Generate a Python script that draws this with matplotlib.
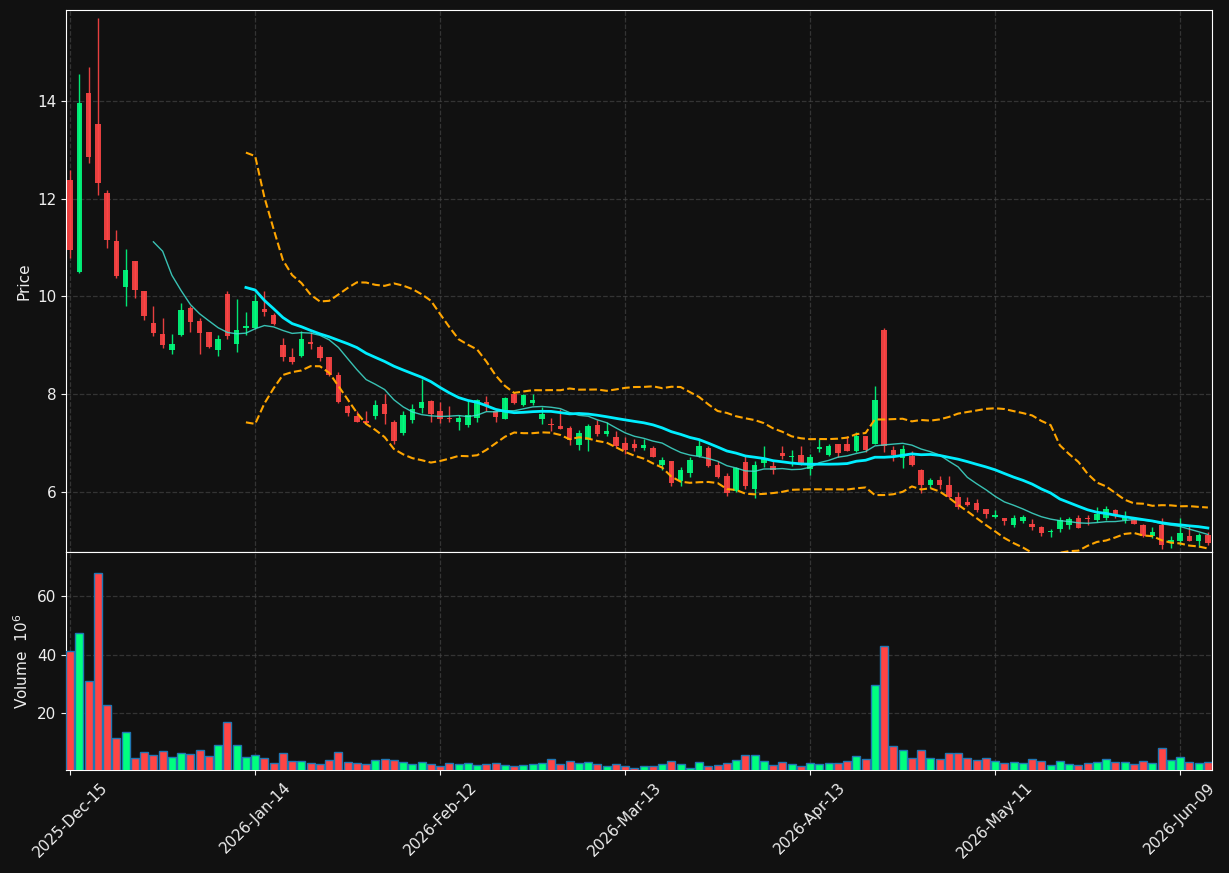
import numpy as np
import pandas as pd
import matplotlib
matplotlib.use("Agg")
import matplotlib.pyplot as plt

# OHLC + volume (volume in millions)
opens = [12.39, 10.50, 14.17, 13.52, 12.11, 11.13, 10.20, 10.72, 10.11, 9.46,
         9.24, 8.90, 9.21, 9.76, 9.50, 9.27, 8.91, 10.05, 9.03, 9.36,
         9.36, 9.74, 9.61, 9.00, 8.76, 8.78, 9.06, 8.96, 8.75, 8.39,
         7.76, 7.56, 7.46, 7.55, 7.80, 7.42, 7.20, 7.48, 7.71, 7.86,
         7.66, 7.52, 7.44, 7.37, 7.52, 7.84, 7.65, 7.50, 8.01, 7.78,
         7.81, 7.50, 7.39, 7.35, 7.31, 6.95, 7.07, 7.37, 7.19, 7.13,
         7.01, 6.99, 6.90, 6.90, 6.56, 6.64, 6.23, 6.39, 6.74, 6.90,
         6.54, 6.33, 6.01, 6.62, 6.05, 6.60, 6.53, 6.80, 6.71, 6.76,
         6.46, 6.88, 6.75, 6.97, 6.97, 6.83, 7.14, 6.99, 9.31, 6.86,
         6.69, 6.73, 6.44, 6.15, 6.25, 6.15, 5.90, 5.79, 5.77, 5.66,
         5.48, 5.46, 5.33, 5.41, 5.35, 5.29, 5.17, 5.25, 5.33, 5.47,
         5.46, 5.42, 5.46, 5.63, 5.42, 5.44, 5.33, 5.09, 5.33, 4.97,
         5.00, 5.10, 4.99, 5.12]
highs = [12.59, 14.56, 14.70, 15.70, 12.18, 11.35, 10.96, 10.72, 10.12, 9.80,
         9.55, 9.24, 9.86, 9.80, 9.55, 9.27, 9.21, 10.11, 9.95, 9.68,
         10.05, 10.12, 9.66, 9.15, 8.95, 9.30, 9.27, 9.00, 8.76, 8.45,
         7.78, 7.65, 7.66, 7.88, 8.01, 7.47, 7.65, 7.80, 8.31, 7.88,
         7.84, 7.76, 7.58, 7.88, 7.90, 7.97, 7.69, 7.95, 8.05, 8.01,
         8.00, 7.74, 7.52, 7.69, 7.35, 7.26, 7.39, 7.47, 7.42, 7.25,
         7.13, 7.08, 7.08, 6.94, 6.72, 6.64, 6.50, 6.72, 7.07, 6.94,
         6.64, 6.38, 6.50, 6.74, 6.64, 6.94, 6.63, 6.94, 6.86, 6.93,
         6.78, 7.08, 6.98, 6.98, 7.15, 7.22, 7.14, 8.16, 9.35, 6.93,
         6.95, 6.84, 6.47, 6.29, 6.33, 6.33, 5.99, 5.90, 5.85, 5.66,
         5.62, 5.47, 5.52, 5.53, 5.44, 5.31, 5.25, 5.48, 5.49, 5.52,
         5.52, 5.69, 5.71, 5.65, 5.60, 5.49, 5.34, 5.29, 5.46, 5.10,
         5.46, 5.31, 5.15, 5.17]
lows = [10.78, 10.48, 12.73, 12.08, 10.99, 10.38, 9.81, 9.96, 9.51, 9.18,
        8.95, 8.83, 9.19, 9.28, 8.82, 8.94, 8.79, 9.12, 8.87, 9.21,
        9.33, 9.59, 9.42, 8.68, 8.61, 8.75, 8.92, 8.68, 8.38, 7.81,
        7.56, 7.44, 7.38, 7.49, 7.38, 6.97, 7.17, 7.40, 7.61, 7.44,
        7.40, 7.42, 7.27, 7.32, 7.42, 7.66, 7.42, 7.50, 7.80, 7.76,
        7.78, 7.39, 7.25, 7.29, 6.96, 6.86, 6.83, 7.15, 7.15, 6.90,
        6.78, 6.84, 6.86, 6.71, 6.45, 6.13, 6.12, 6.30, 6.72, 6.50,
        6.29, 5.92, 6.00, 6.06, 5.87, 6.50, 6.37, 6.67, 6.52, 6.56,
        6.35, 6.82, 6.74, 6.72, 6.84, 6.81, 6.81, 6.98, 6.81, 6.64,
        6.48, 6.52, 5.97, 6.08, 6.06, 5.88, 5.65, 5.72, 5.59, 5.47,
        5.47, 5.33, 5.28, 5.37, 5.22, 5.09, 5.07, 5.17, 5.25, 5.26,
        5.32, 5.39, 5.42, 5.46, 5.37, 5.34, 5.07, 5.05, 4.83, 4.86,
        4.92, 5.00, 4.88, 4.92]
closes = [10.94, 13.95, 12.86, 12.33, 11.15, 10.41, 10.54, 10.14, 9.59, 9.26,
          9.01, 9.03, 9.72, 9.48, 9.26, 8.97, 9.13, 9.18, 9.31, 9.40,
          9.90, 9.69, 9.44, 8.75, 8.66, 9.13, 9.03, 8.73, 8.39, 7.84,
          7.61, 7.44, 7.40, 7.78, 7.59, 7.04, 7.58, 7.69, 7.84, 7.59,
          7.49, 7.50, 7.52, 7.57, 7.88, 7.76, 7.54, 7.93, 7.82, 7.99,
          7.88, 7.59, 7.36, 7.29, 7.06, 7.21, 7.35, 7.19, 7.24, 6.93,
          6.86, 6.89, 6.95, 6.72, 6.65, 6.19, 6.45, 6.66, 6.94, 6.52,
          6.31, 5.97, 6.48, 6.13, 6.56, 6.67, 6.45, 6.74, 6.73, 6.59,
          6.72, 6.91, 6.94, 6.79, 6.84, 7.15, 6.86, 7.88, 6.93, 6.76,
          6.88, 6.54, 6.14, 6.25, 6.15, 5.89, 5.69, 5.74, 5.63, 5.54,
          5.52, 5.40, 5.46, 5.49, 5.29, 5.16, 5.20, 5.42, 5.45, 5.27,
          5.44, 5.54, 5.65, 5.51, 5.51, 5.35, 5.09, 5.18, 4.92, 5.01,
          5.16, 5.00, 5.12, 4.95]
volumes = [41.3, 47.3, 30.9, 67.9, 22.7, 11.4, 13.5, 4.6, 6.7, 5.6,
           7.0, 5.2, 6.3, 6.0, 7.3, 5.3, 9.0, 16.9, 9.0, 5.2,
           5.6, 4.6, 2.9, 6.3, 3.6, 3.6, 2.9, 2.5, 3.9, 6.7,
           3.2, 2.9, 2.5, 3.9, 4.3, 3.9, 3.2, 2.5, 3.2, 2.5,
           1.8, 2.9, 2.5, 2.9, 2.2, 2.5, 2.9, 2.2, 1.8, 2.2,
           2.5, 2.9, 4.3, 2.5, 3.6, 2.9, 3.2, 2.5, 1.8, 2.5,
           1.8, 1.4, 1.8, 1.8, 2.5, 3.6, 2.5, 1.4, 3.2, 1.8,
           2.2, 2.9, 3.9, 5.6, 5.6, 3.6, 2.2, 3.2, 2.5, 1.8,
           2.9, 2.5, 2.9, 2.9, 3.6, 5.3, 4.3, 29.6, 42.9, 8.7,
           7.3, 4.6, 7.3, 4.6, 4.3, 6.3, 6.3, 4.6, 3.9, 4.6,
           3.6, 2.9, 3.2, 2.9, 4.3, 3.6, 2.2, 3.6, 2.5, 2.2,
           2.9, 3.2, 4.3, 3.2, 3.2, 2.5, 3.6, 2.9, 8.0, 3.9,
           4.9, 3.2, 2.9, 3.2]
tick_labels = ['2025-Dec-15', '2026-Jan-14', '2026-Feb-12', '2026-Mar-13',
               '2026-Apr-13', '2026-May-11', '2026-Jun-09']

df = pd.DataFrame({'Open': opens, 'High': highs, 'Low': lows,
                   'Close': closes, 'Volume': volumes})
x = np.arange(len(df))

# indicators
ma10 = df['Close'].rolling(10).mean()
ma20 = df['Close'].rolling(20).mean()
sd20 = df['Close'].rolling(20).std(ddof=0)
upper = ma20 + 2 * sd20
lower = ma20 - 2 * sd20

bg = '#111111'
up_c = '#00ff7f'
dn_c = '#ff4545'
txt = '#eeeeee'

fig = plt.figure(figsize=(12.29, 8.73), dpi=100, facecolor=bg)
ax1 = fig.add_axes([0.0537, 0.3677, 0.9325, 0.6208], facecolor=bg)
ax2 = fig.add_axes([0.0537, 0.1180, 0.9325, 0.2497], facecolor=bg, sharex=ax1)

is_up = df['Close'] >= df['Open']
cols = np.where(is_up, up_c, dn_c)

# candles
ax1.vlines(x, df['Low'], df['High'], colors=cols, linewidth=1, alpha=0.9, zorder=2)
body_lo = np.minimum(df['Open'], df['Close'])
body_h = np.maximum(np.abs(df['Close'] - df['Open']), 0.02)
ax1.bar(x, body_h, bottom=body_lo, width=0.6, color=cols, alpha=0.9,
        linewidth=0, zorder=3)

# moving averages and bands
ax1.plot(x, ma10, color='#40e0d0', lw=1, alpha=0.85, zorder=4)
ax1.plot(x, ma20, color='#00eeff', lw=2, zorder=4)
ax1.plot(x, upper, color='orange', lw=1.5, ls='--', zorder=4)
ax1.plot(x, lower, color='orange', lw=1.5, ls='--', zorder=4)

ax1.set_ylim(4.77, 15.86)
ax1.set_yticks([6, 8, 10, 12, 14])
ax1.set_ylabel('Price', color=txt, fontsize=11)

# volume
ax2.bar(x, df['Volume'], width=0.85, color=cols, edgecolor='#1f77b4',
        linewidth=1, zorder=3)
ax2.set_ylim(0.6, 75.1)
ax2.set_yticks([20, 40, 60])
ax2.set_ylabel('Volume  $10^{6}$', color=txt, fontsize=11)

ax2.set_xlim(-0.45, 123.45)
ax2.set_xticks(np.arange(0, len(df), 20))
ax2.set_xticklabels(tick_labels, rotation=45, ha='center')
ax1.tick_params(axis='x', labelbottom=False, length=0)

for ax in (ax1, ax2):
    ax.grid(True, color='#444444', ls='--', lw=0.9, alpha=0.7, zorder=0)
    ax.tick_params(colors=txt, labelsize=11)
    for sp in ax.spines.values():
        sp.set_color('white')

fig.savefig('out.png', dpi=100, facecolor=bg)
